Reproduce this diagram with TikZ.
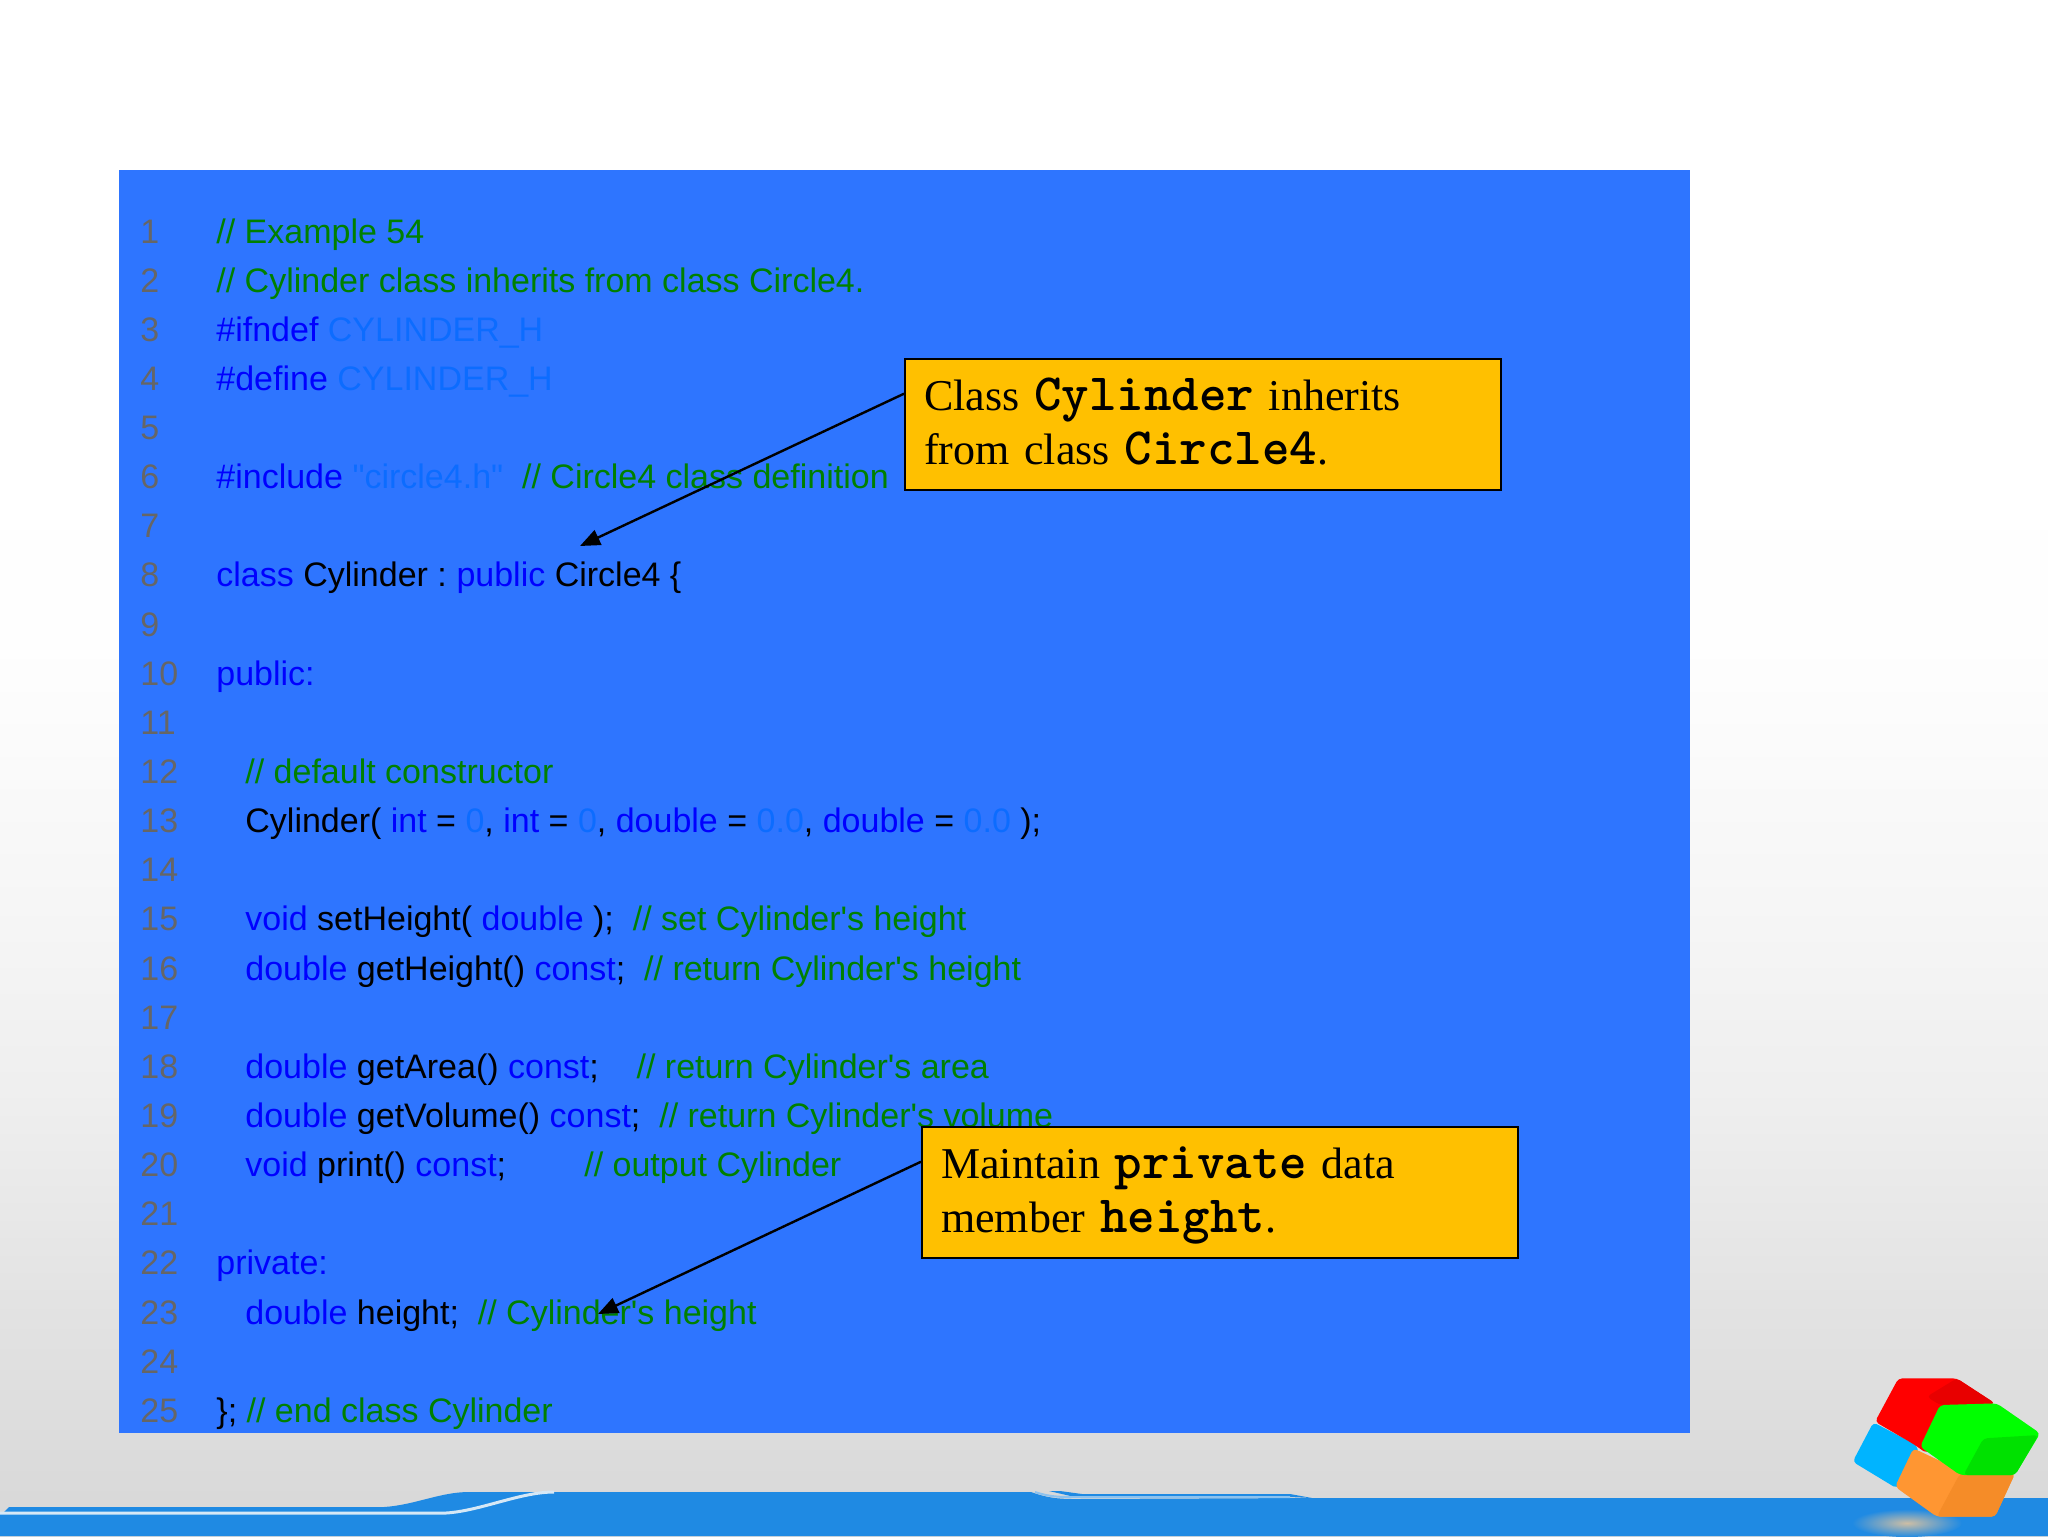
\documentclass[tikz,border=0pt]{standalone}
\usepackage{fontspec}
\newfontfamily\codefont{Liberation Sans}
\newfontfamily\calloutfont{Liberation Serif}
\usetikzlibrary{arrows.meta}
\definecolor{panelblue}{RGB}{46,117,255}
\definecolor{bandblue}{RGB}{31,138,227}
\definecolor{bandline}{RGB}{214,232,246}
\definecolor{glowtan}{RGB}{205,190,165}
\definecolor{calloutyellow}{RGB}{255,192,0}
\definecolor{commentgreen}{RGB}{0,128,0}
\definecolor{keywordblue}{RGB}{0,0,255}
\definecolor{stringblue}{RGB}{12,108,255}
\definecolor{linegray}{RGB}{102,102,102}
\definecolor{cubered}{RGB}{255,0,0}
\definecolor{cubereddark}{RGB}{232,0,0}
\definecolor{cubegreen}{RGB}{0,255,0}
\definecolor{cubegreendark}{RGB}{0,225,0}
\definecolor{cubeblue}{RGB}{0,180,255}
\definecolor{cubeorange}{RGB}{255,150,50}
\definecolor{cubeorangedark}{RGB}{245,140,40}
\newcommand{\kw}[1]{\textcolor{keywordblue}{#1}}
\newcommand{\cm}[1]{\textcolor{commentgreen}{#1}}
\newcommand{\st}[1]{\textcolor{stringblue}{#1}}
\newcommand{\cb}[1]{{\fontsize{26.2}{27.3}\selectfont\ttfamily\bfseries\addfontfeature{FakeBold=1.2}#1}}
% the middle 50bp of a declared shading is what covers the path
\pgfdeclareverticalshading{slidebg}{100bp}{
    rgb(0bp)=(0.85,0.85,0.85);
    rgb(26bp)=(0.85,0.85,0.85);
    rgb(32.7bp)=(0.89,0.89,0.89);
    rgb(39.2bp)=(0.935,0.935,0.935);
    rgb(45.7bp)=(0.965,0.965,0.965);
    rgb(53.8bp)=(0.995,0.995,0.995);
    rgb(60.3bp)=(1,1,1);
    rgb(100bp)=(1,1,1)}
\tikzset{
    common/.style={anchor=base west, inner sep=0pt, font=\codefont\fontsize{17}{20}\selectfont},
    linenum/.style={common, text=linegray},
    codeline/.style={common, text=black},
    callout/.style={draw=black, fill=calloutyellow, line width=1.2pt, anchor=north west,
        minimum width=298pt, minimum height=65.5pt, inner xsep=9.5pt, inner ysep=0pt,
        align=left, text width=279pt, font=\calloutfont\fontsize{22}{27.3}\selectfont,
        execute at begin node=\rule{0pt}{25.5pt},
        execute at end node=\rule[-12.7pt]{0pt}{12.7pt}},
    pointer/.style={draw=black, line width=1.2pt, -{Triangle[length=10pt,width=8pt]}},
    facet/.style={rounded corners=2pt}
}
\begin{document}
\begin{tikzpicture}[x=0.5pt,y=-0.5pt]
    \useasboundingbox (0,0) rectangle (2048,1536);
    \shade[shading=slidebg] (0,0) rectangle (2048,1536);

    % bottom band
    \fill[bandblue] (0,1536) -- (0,1513) -- (3,1513) -- (9,1507) -- (384,1507)
        .. controls (415,1505) and (440,1492) .. (469,1492) -- (1031,1492)
        .. controls (1045,1497) and (1055,1499) .. (1075,1499) -- (1312,1498)
        -- (2048,1498) -- (2048,1536) -- cycle;
    \fill[bandblue] (1049,1491) -- (1060,1491) -- (1082,1494) -- (1290,1494) -- (1312,1498) -- (1290,1497) -- (1075,1497) -- cycle;
    \draw[bandline, line width=1.5pt] (0,1513) -- (446,1513)
        .. controls (480,1511) and (520,1492) .. (554,1492);
    \draw[bandline!60!bandblue, line width=1pt] (1035,1492)
        .. controls (1050,1497) and (1060,1497) .. (1075,1497) -- (1290,1497);
    \shade[inner color=glowtan, outer color=bandblue] (1907,1523) ellipse (55 and 14);

    % cube
    \begin{scope}[shift={(1700,1340)},x=0.1667pt,y=-0.1667pt]
        \fill[cubeblue, facet] (520,247) -- (650,315) -- (655,340) -- (590,445) -- (458,365) -- cycle;
        \fill[cubered, facet] (595,115) -- (770,115) -- (885,190) -- (760,230) -- (680,340) -- (640,312) -- (525,245) -- cycle;
        \fill[cubereddark, facet] (770,115) -- (885,190) -- (720,195) -- (680,170) -- cycle;
        \fill[cubeorange, facet] (640,325) -- (790,395) -- (945,400) -- (885,530) -- (710,530) -- (585,440) -- cycle;
        \fill[cubeorangedark, facet] (780,400) -- (945,400) -- (885,530) -- (710,530) -- cycle;
        \fill[cubegreen, facet] (720,195) -- (890,190) -- (1020,280) -- (945,405) -- (780,405) -- (660,320) -- cycle;
        \fill[cubegreendark, facet] (850,295) -- (1015,285) -- (945,405) -- (790,405) -- cycle;
    \end{scope}

    % code panel
    \fill[panelblue] (119,170) rectangle (1690,1433);

    \foreach \n in {1,...,25}
        \node[linenum] (n\n) at (140,{243+49.14*(\n-1)}) {\n};
    \coordinate (left) at (216,0);
    \coordinate (ind) at (245,0);

    \node[codeline] (c1) at (left |- n1.base) {\cm{// Example 54}};
    \node[codeline] (c2) at (left |- n2.base) {\cm{// Cylinder class inherits from class Circle4.}};
    \node[codeline] (c3) at (left |- n3.base) {\kw{\#ifndef} \st{CYLINDER\_H}};
    \node[codeline] (c4) at (left |- n4.base) {\kw{\#define} \st{CYLINDER\_H}};
    \node[codeline] (c6) at (left |- n6.base) {\kw{\#include} \st{"circle4.h"}\ \ \cm{// Circle4 class definition}};
    \node[codeline] (c8) at (left |- n8.base) {\kw{class} Cylinder :\hspace{-1.5pt} \kw{public} Circle4 \{};
    \node[codeline] (c10) at (left |- n10.base) {\kw{public:}};
    \node[codeline] (c12) at (ind |- n12.base) {\cm{// default constructor}};
    \node[codeline] (c13) at (ind |- n13.base) {Cylinder( \kw{int} = \st{0}, \kw{int} = \st{0}, \kw{double} = \st{0.0}, \kw{double} = \st{0.0} );};
    \node[codeline] (c15) at (ind |- n15.base) {\kw{void} setHeight( \kw{double} );\ \ \cm{// set Cylinder's height}};
    \node[codeline] (c16) at (ind |- n16.base) {\kw{double} getHeight() \kw{const};\ \ \cm{// return Cylinder's height}};
    \node[codeline] (c18) at (ind |- n18.base) {\kw{double} getArea() \kw{const};\ \ \ \ \cm{// return Cylinder's area}};
    \node[codeline] (c19) at (ind |- n19.base) {\kw{double} getVolume() \kw{const};\ \ \cm{// return Cylinder's volume}};
    \node[codeline] (c20) at (ind |- n20.base) {\kw{void} print() \kw{const};\ \ \ \ \ \ \ \ \hspace{1.3pt}\cm{// output Cylinder}};
    \node[codeline] (c22) at (left |- n22.base) {\kw{private:}};
    \node[codeline] (c23) at (ind |- n23.base) {\kw{double} height;\ \ \cm{// Cylinder's height}};
    \node[codeline] (c25) at (left |- n25.base) {\}; \cm{// end class Cylinder}};

    % callouts
    \node[callout] (inherit) at (904,358) {Class \cb{Cylinder} inherits\\from class \cb{Circle4}.};
    \node[callout] (member) at (921,1126) {Maintain \cb{private} data\\member \cb{height}.};

    \coordinate (inherit-end) at (580,546);
    \coordinate (member-end) at (598,1314);
    \draw[pointer] ([yshift=15.5pt]inherit.west) -- (inherit-end);
    \draw[pointer] ([yshift=15.5pt]member.west) -- (member-end);
\end{tikzpicture}
\end{document}
